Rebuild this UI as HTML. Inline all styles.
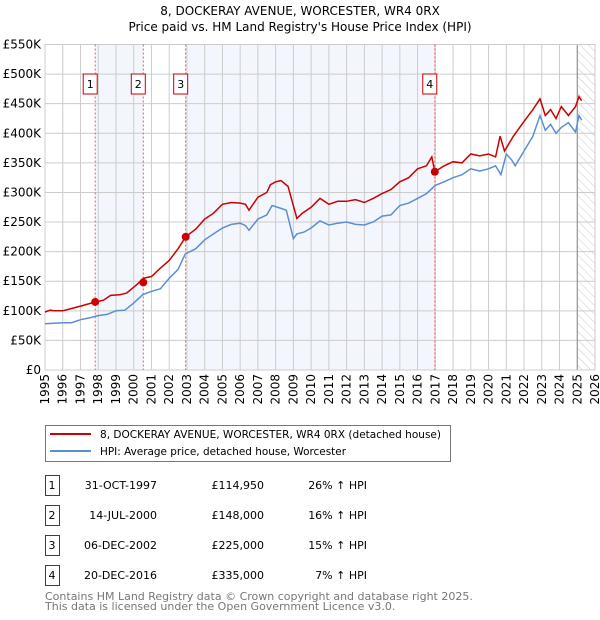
<!DOCTYPE html>
<html><head><meta charset="utf-8"><style>
body{margin:0;background:#fff;width:600px;height:620px;overflow:hidden}
svg{display:block;font-family:"DejaVu Sans","Liberation Sans",sans-serif}
</style></head><body>
<svg id="chart" width="600" height="620" viewBox="0 0 600 620">
<defs><pattern id="hatch" width="6" height="6" patternUnits="userSpaceOnUse" patternTransform="rotate(-45)"><line x1="0" y1="0" x2="0" y2="6" stroke="#ccc" stroke-width="1"/></pattern></defs>
<text x="300" y="15" text-anchor="middle" font-size="12">8, DOCKERAY AVENUE, WORCESTER, WR4 0RX</text>
<text x="300" y="31" text-anchor="middle" font-size="12">Price paid vs. HM Land Registry's House Price Index (HPI)</text>
<g id="plot"></g>
<g>
<rect x="45.5" y="425.5" width="405" height="36" fill="#fff" stroke="#777"/>
<line x1="50" y1="434" x2="91" y2="434" stroke="#cc0000" stroke-width="2"/>
<text x="100" y="438" font-size="10.5" textLength="341" lengthAdjust="spacingAndGlyphs">8, DOCKERAY AVENUE, WORCESTER, WR4 0RX (detached house)</text>
<line x1="50" y1="451" x2="91" y2="451" stroke="#5b8fd0" stroke-width="2"/>
<text x="100" y="455" font-size="10.5" textLength="246" lengthAdjust="spacingAndGlyphs">HPI: Average price, detached house, Worcester</text>
</g>
<g id="table" font-size="11"></g>
<text x="45" y="600" font-size="11" fill="#777">Contains HM Land Registry data © Crown copyright and database right 2025.</text>
<text x="45" y="610" font-size="11" fill="#777">This data is licensed under the Open Government Licence v3.0.</text>
</svg>
<script>
const yearTicks=[1995,1996,1997,1998,1999,2000,2001,2002,2003,2004,2005,2006,2007,2008,2009,2010,2011,2012,2013,2014,2015,2016,2017,2018,2019,2020,2021,2022,2023,2024,2025,2026];
const priceTicks=[0,50,100,150,200,250,300,350,400,450,500,550];
const priceLabels=["£0","£50K","£100K","£150K","£200K","£250K","£300K","£350K","£400K","£450K","£500K","£550K"];
const hpiT=[1995,1995.5,1996,1996.5,1997,1997.5,1998,1998.5,1999,1999.5,2000,2000.5,2001,2001.5,2002,2002.5,2002.9,2003.5,2004,2004.5,2005,2005.5,2006,2006.3,2006.5,2007,2007.5,2007.8,2008.3,2008.6,2009,2009.2,2009.6,2010,2010.5,2011,2011.5,2012,2012.5,2013,2013.5,2014,2014.5,2015,2015.5,2016,2016.5,2017,2017.5,2018,2018.5,2019,2019.5,2020,2020.4,2020.7,2021,2021.3,2021.5,2022,2022.5,2022.9,2023.2,2023.5,2023.8,2024.1,2024.5,2024.9,2025.1,2025.25];
const hpiV=[78,79,80,80,85,88,92,94,100,101,113,127,133,137,155,170,196,205,220,230,240,246,248,244,236,255,262,278,273,270,222,230,233,240,252,245,248,250,246,245,250,260,262,278,282,290,298,312,318,325,330,340,336,340,345,330,365,355,345,370,395,430,405,415,400,410,418,402,430,422];
const redT=[1995,1995.3,1995.5,1996,1996.5,1997,1997.83,1998.3,1998.7,1999.2,1999.6,2000.2,2000.54,2001,2001.5,2002,2002.5,2002.93,2003.5,2004,2004.5,2005,2005.5,2006,2006.3,2006.5,2007,2007.5,2007.7,2008,2008.3,2008.7,2009.2,2009.5,2010,2010.5,2011,2011.5,2012,2012.5,2013,2013.5,2014,2014.5,2015,2015.5,2016,2016.5,2016.8,2016.97,2017.5,2018,2018.5,2019,2019.5,2020,2020.4,2020.65,2020.9,2021.4,2022,2022.5,2022.9,2023.2,2023.5,2023.8,2024.1,2024.5,2024.9,2025.1,2025.25];
const redV=[98,101,100,100,104,108,114.95,118,126,127,130,145,155,158,172,185,205,225,238,255,265,280,283,282,280,270,292,300,313,318,320,310,256,265,275,290,280,285,285,288,283,290,298,305,318,325,340,345,360,335,345,352,350,365,362,365,360,395,370,395,420,440,458,430,440,425,445,430,445,462,455];
const saleT=[1997.83,2000.54,2002.93,2016.97];
const saleV=[114.95,148,225,335];
const saleLabels=["1","2","3","4"];
const saleDates=["31-OCT-1997","14-JUL-2000","06-DEC-2002","20-DEC-2016"];
const salePrices=["£114,950","£148,000","£225,000","£335,000"];
const saleDiffs=["26% ↑ HPI","16% ↑ HPI","15% ↑ HPI","7% ↑ HPI"];

const X0=45,X1=595,Y0=370,Y1=44.5;
const xs=t=>X0+(t-1995)/(2026-1995)*(X1-X0);
const ys=v=>Y0-v/550*(Y0-Y1);
const NS="http://www.w3.org/2000/svg";
const plot=document.getElementById('plot');
function mk(tag,attrs,parent){const e=document.createElementNS(NS,tag);for(const k in attrs)e.setAttribute(k,attrs[k]);(parent||plot).appendChild(e);return e;}
mk('rect',{x:X0,y:Y1,width:X1-X0,height:Y0-Y1,fill:'#fff'});
let r=mk('rect',{x:xs(saleT[0]),y:Y1,width:xs(saleT[1])-xs(saleT[0]),height:Y0-Y1,fill:'#f3f6fd'});


r=mk('rect',{x:xs(saleT[2]),y:Y1,width:xs(saleT[3])-xs(saleT[2]),height:Y0-Y1,fill:'#f3f6fd'});


r=mk('rect',{x:xs(2025.0),y:Y1,width:X1-xs(2025.0),height:Y0-Y1,fill:'url(#hatch)'});


priceTicks.forEach((v,i)=>{
 mk('line',{x1:X0,x2:X1,y1:ys(v),y2:ys(v),stroke:'#ccc','stroke-width':1});
 const t=mk('text',{x:X0-4,y:ys(v)+4,'text-anchor':'end','font-size':12});
 t.textContent=priceLabels[i];
 
 
});
yearTicks.forEach(y=>{
 mk('line',{x1:xs(y),x2:xs(y),y1:Y1,y2:Y0,stroke:'#ccc','stroke-width':1});
 const t=mk('text',{transform:`translate(${xs(y)+4},${Y0+4}) rotate(-90)`,'text-anchor':'end','font-size':12});
 t.textContent=y;
 
 
});
mk('line',{x1:xs(2025.0),x2:xs(2025.0),y1:Y1,y2:Y0,stroke:'#888','stroke-width':1});
mk('rect',{x:X0,y:Y1,width:X1-X0,height:Y0-Y1,fill:'none',stroke:'#ccc'});
saleT.forEach((t,i)=>{
 const l=mk('line',{x1:xs(t),x2:xs(t),y1:Y1,y2:Y0,stroke:'#e06060','stroke-width':1,'stroke-dasharray':'2,2'});
 
 
});
const path=(T,V)=>T.map((t,i)=>(i?'L':'M')+xs(t).toFixed(1)+','+ys(V[i]).toFixed(1)).join('');
let p=mk('path',{d:path(hpiT,hpiV),fill:'none',stroke:'#5b8fd0','stroke-width':1.5});


p=mk('path',{d:path(redT,redV),fill:'none',stroke:'#cc0000','stroke-width':1.5});


saleT.forEach((t,i)=>{
 const c=mk('circle',{cx:xs(t),cy:ys(saleV[i]),r:4,fill:'#cc0000'});
 
 
 const b=mk('rect',{x:xs(t)-12,y:74,width:14,height:20,fill:'#fff',stroke:'#cc0000'});
 
 
 const tx=mk('text',{x:xs(t)-5,y:88,'text-anchor':'middle','font-size':11});
 tx.textContent=saleLabels[i];
 
 
});
const tbl=document.getElementById('table');
saleT.forEach((t,i)=>{
 const y0=475+30*i;
 const b=mk('rect',{x:45.5,y:y0+0.5,width:14,height:20,fill:'#fff',stroke:'#cc0000'},tbl);
 
 
 const cells=[[52,'middle',saleLabels[i]],[157,'end',saleDates[i]],[264,'end',salePrices[i]],[367,'end',saleDiffs[i]]];
 cells.forEach(([x,a,s])=>{
  const tx=mk('text',{x:x,y:y0+14,'text-anchor':a},tbl);
  tx.textContent=s;
  
  
 });
});
</script>
</body></html>
